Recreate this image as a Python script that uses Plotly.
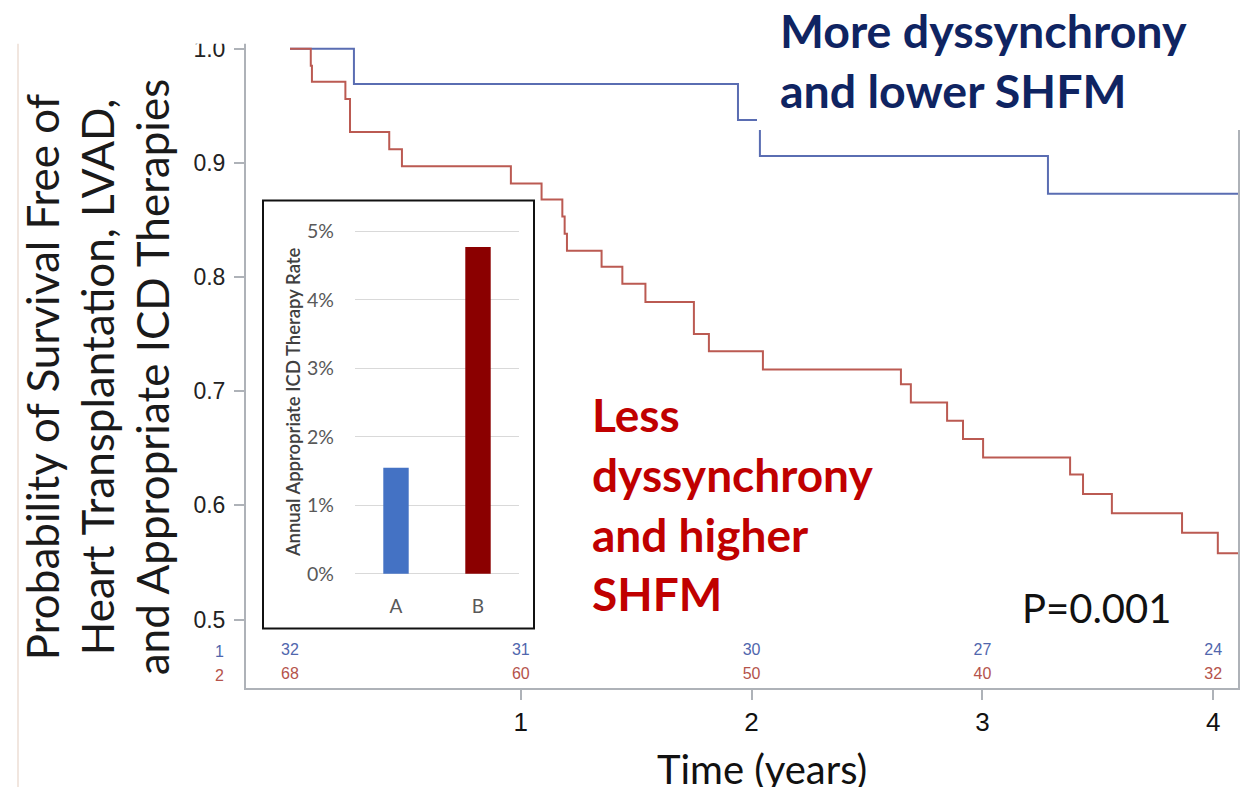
import plotly.graph_objects as go

# Kaplan-Meier step data (time in years, survival probability)
blue_t = [0.0, 0.277, 1.941, 2.036, 3.284, 4.11]
blue_s = [1.0, 0.969, 0.9375, 0.906, 0.873, 0.873]

red_t = [0.0, 0.090, 0.095, 0.240, 0.260, 0.430, 0.485, 0.957, 1.090, 1.180,
         1.190, 1.200, 1.350, 1.440, 1.540, 1.750, 1.815, 2.049, 2.647, 2.690,
         2.847, 2.916, 3.003, 3.380, 3.436, 3.561, 3.865, 4.020, 4.11]
red_s = [1.0, 0.985, 0.971, 0.956, 0.927, 0.912, 0.897, 0.882, 0.868, 0.853,
         0.838, 0.823, 0.809, 0.794, 0.778, 0.750, 0.735, 0.719, 0.706, 0.690,
         0.674, 0.658, 0.642, 0.627, 0.610, 0.593, 0.576, 0.558, 0.558]

# Numbers at risk
risk_times = [0, 1, 2, 3, 4]
risk_group1 = [32, 31, 30, 27, 24]
risk_group2 = [68, 60, 50, 40, 32]

# Inset bar chart
inset_cats = ["A", "B"]
inset_rates = [0.0155, 0.0477]

y_ticks = [0.5, 0.6, 0.7, 0.8, 0.9, 1.0]
x_ticks = [1, 2, 3, 4]

W, H = 1243, 787
L, R, T, B = 246, 1238, 0, 688
PW, PH = R - L, B - T


def px(x):
    return (x - L) / PW


def py(y):
    return (B - y) / PH


BLUE = "#5a6db2"
RED = "#bb5a52"
RISK_FONT = "Liberation Sans Narrow, Liberation Sans"

fig = go.Figure()

fig.add_trace(go.Scatter(x=blue_t, y=blue_s, mode="lines", line=dict(color=BLUE, width=2, shape="hv"),
                         hoverinfo="skip", showlegend=False))
fig.add_trace(go.Scatter(x=red_t, y=red_s, mode="lines", line=dict(color=RED, width=2, shape="hv"),
                         hoverinfo="skip", showlegend=False))

row1_y = 1 - (651 - 44) / 1150
row2_y = 1 - (675 - 44) / 1150
fig.add_trace(go.Scatter(x=risk_times, y=[row1_y] * 5, mode="text", text=[str(v) for v in risk_group1],
                         textfont=dict(family=RISK_FONT, size=16, color="#5066ad"),
                         hoverinfo="skip", showlegend=False))
fig.add_trace(go.Scatter(x=risk_times, y=[row2_y] * 5, mode="text", text=[str(v) for v in risk_group2],
                         textfont=dict(family=RISK_FONT, size=16, color="#b5534b"),
                         hoverinfo="skip", showlegend=False))

# Inset bars
fig.add_trace(go.Bar(x=inset_cats, y=inset_rates, xaxis="x2", yaxis="y2", width=0.31,
                     marker=dict(color=["#4472c4", "#8b0000"], line=dict(width=0)),
                     hoverinfo="skip", showlegend=False))

x0_px, xscale = 290, 230.8
xr = [(L - x0_px) / xscale, (R - x0_px) / xscale]
yr = [1 - (B - 44) / 1150, 1 + (44 - T) / 1150]

axis_grey = "#aeb2b8"

# Inset geometry
in_left, in_right = 355, 519
pct_px = 69.0
zero_px = 573
in_range = [-0.001, 0.051]
in_bottom_px = zero_px + 0.1 * pct_px
in_top_px = zero_px - 5.1 * pct_px

fig.update_layout(
    width=W, height=H,
    margin=dict(l=L, r=W - R, t=T, b=H - B),
    paper_bgcolor="white", plot_bgcolor="white",
    xaxis=dict(range=xr, tickvals=x_ticks, ticks="outside", ticklen=10, tickwidth=2, tickcolor=axis_grey,
               showline=True, linecolor=axis_grey, linewidth=2, mirror=True, showgrid=False, zeroline=False,
               tickfont=dict(family="Liberation Sans, Arial", size=26, color="#111"), ticklabelstandoff=0),
    yaxis=dict(range=yr, tickvals=y_ticks, tickformat=".1f", ticks="outside", ticklen=10, tickwidth=2,
               tickcolor=axis_grey, showline=True, linecolor=axis_grey, linewidth=2, mirror=True,
               showgrid=False, zeroline=False,
               tickfont=dict(family="Liberation Sans, Arial", size=23, color="#222"), ticklabelstandoff=4),
    xaxis2=dict(domain=[px(in_left), px(in_right)], anchor="y2", showline=False, ticks="",
                tickfont=dict(family="Lato", size=19, color="#595959"), ticklabelstandoff=12),
    yaxis2=dict(domain=[py(in_bottom_px), py(in_top_px)], anchor="x2", range=in_range,
                tickvals=[0, 0.01, 0.02, 0.03, 0.04, 0.05], tickformat=".0%", showgrid=True,
                gridcolor="#d9d9d9", gridwidth=1, zeroline=True, zerolinecolor="#d9d9d9", zerolinewidth=1,
                showline=False, ticks="",
                tickfont=dict(family="Lato", size=19.5, color="#595959"), ticklabelstandoff=20),
)

shapes = [
    # inset frame
    dict(type="rect", xref="paper", yref="paper", x0=px(263), x1=px(534), y0=py(628), y1=py(197),
         line=dict(color="#111", width=2), fillcolor="white", layer="below"),
    # white strip above the panel
    dict(type="rect", xref="paper", yref="paper", x0=px(0), x1=px(W), y0=py(39), y1=py(-5),
         line=dict(width=0), fillcolor="white", layer="above"),
    # white backing for the upper-right label
    dict(type="rect", xref="paper", yref="paper", x0=px(757), x1=px(W), y0=py(126), y1=py(-5),
         line=dict(width=0), fillcolor="white", layer="above"),
    # faint panel edge at left
    dict(type="line", xref="paper", yref="paper", x0=px(18), x1=px(18), y0=py(39), y1=py(H + 5),
         line=dict(color="#f1e6df", width=2), layer="above"),
]
fig.update_layout(shapes=shapes)

ann = []
# y-axis title (three rotated lines)
ytitle = ["Probability of Survival Free of", "Heart Transplantation, LVAD,", "and Appropriate ICD Therapies"]
for xc, txt in zip([42, 97, 152], ytitle):
    ann.append(dict(xref="paper", yref="paper", x=px(xc), y=py(375), text=txt, textangle=-90,
                    showarrow=False, xanchor="center", yanchor="middle",
                    font=dict(family="Lato", size=44, color="#1a1a1a")))

ann.append(dict(xref="paper", yref="paper", x=px(762), y=py(770), text="Time (years)", showarrow=False,
                xanchor="center", yanchor="middle", font=dict(family="Lato", size=40, color="#111")))

# row labels of at-risk table
ann.append(dict(xref="paper", yref="paper", x=px(219), y=py(651), text="1", showarrow=False,
                xanchor="center", yanchor="middle",
                font=dict(family=RISK_FONT, size=16, color="#5066ad")))
ann.append(dict(xref="paper", yref="paper", x=px(219), y=py(675), text="2", showarrow=False,
                xanchor="center", yanchor="middle",
                font=dict(family=RISK_FONT, size=16, color="#b5534b")))

ann.append(dict(xref="paper", yref="paper", x=px(778), y=py(55), text="More dyssynchrony<br>and lower SHFM",
                showarrow=False, xanchor="left", yanchor="middle", align="left",
                font=dict(family="Lato", size=46.5, color="#0f2462", weight="bold")))

ann.append(dict(xref="paper", yref="paper", x=px(590), y=py(503),
                text="Less<br>dyssynchrony<br>and higher<br>SHFM",
                showarrow=False, xanchor="left", yanchor="middle", align="left",
                font=dict(family="Lato", size=46, color="#c00000", weight="bold")))

ann.append(dict(xref="paper", yref="paper", x=px(1096), y=py(607), text="P=0.001", showarrow=False,
                xanchor="center", yanchor="middle", font=dict(family="Lato", size=40, color="#111")))

ann.append(dict(xref="paper", yref="paper", x=px(293), y=py(400), text="Annual Appropriate ICD Therapy Rate",
                textangle=-90, showarrow=False, xanchor="center", yanchor="middle",
                font=dict(family="Lato", size=18.5, color="#404040", weight=600)))

fig.update_layout(annotations=ann)

fig.write_html("out.html")
